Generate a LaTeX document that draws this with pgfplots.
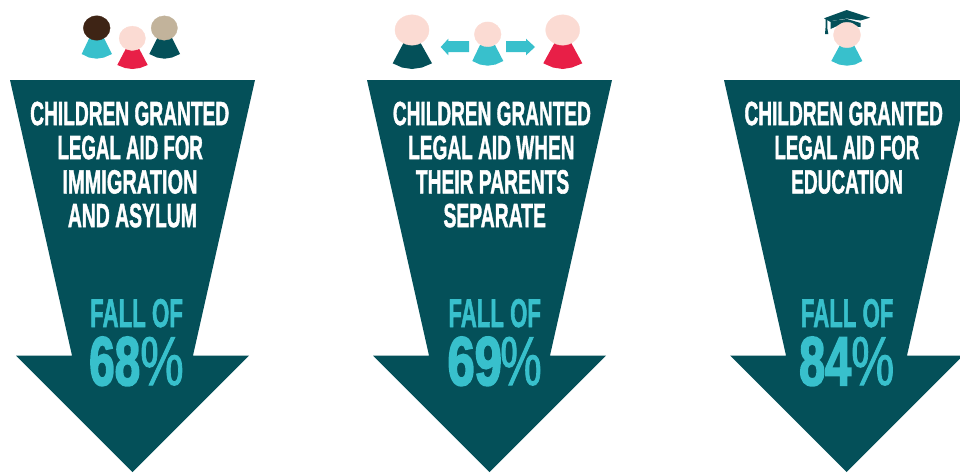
\documentclass[border=0pt]{standalone}
\usepackage{fontspec}
\setmainfont{Liberation Sans}
\newfontface\heavy[FakeBold=1.8]{Liberation Sans Bold}
\newfontface\heavier[FakeBold=3]{Liberation Sans Bold}
\newfontface\midweight[FakeBold=1.5]{Liberation Sans}
\usepackage{pgfplots}
\pgfplotsset{compat=1.18}

\definecolor{deep}{HTML}{045059}
\definecolor{aqua}{HTML}{38C0CC}
\definecolor{skin}{HTML}{FBDBD3}
\definecolor{rose}{HTML}{E81F47}
\definecolor{brownhead}{HTML}{3E2415}
\definecolor{tanhead}{HTML}{C2B39B}

% one line of text fitted to x1..x2, cap top y1, baseline y2 (picture pixels)
\newcommand\fitline[6]{%
  \node[anchor=base west, inner sep=0pt, text=#5] at (axis cs:#1,#4)
    {\resizebox{\dimexpr#2pt-#1pt\relax}{\dimexpr#4pt-#3pt\relax}{#6}};}
\newcommand\titleline[5]{\fitline{#1}{#2}{#3}{#4}{white}{\heavy #5}}

\pgfplotsset{
  block/.style={draw=none, fill=#1, forget plot},
  head/.style n args={3}{only marks, mark=*, mark size=#2pt, forget plot, color=#1,
    mark options={draw=#1, fill=#1, line width=0.3pt, xscale=#3}},
}

\begin{document}
\begin{tikzpicture}
\path[use as bounding box] (0,0) rectangle (960pt,472pt);
\begin{axis}[
  at={(0,0)}, anchor=south west,
  width=960pt, height=472pt, scale only axis, hide axis,
  xmin=0, xmax=960, ymin=0, ymax=472, y dir=reverse, clip=true,
]
% arrows
\addplot[block=deep] coordinates {(10,80)(255,80)(193,355.5)(249,355.5)(132.5,472)(16,355.5)(72,355.5)} --cycle;
\addplot[block=deep] coordinates {(367,80)(612,80)(550,355.5)(606,355.5)(489.5,472)(373,355.5)(429,355.5)} --cycle;
\addplot[block=deep] coordinates {(724,80)(969,80)(907,355.5)(963,355.5)(846.5,472)(730,355.5)(786,355.5)} --cycle;

% family icon
\addplot[block=aqua] coordinates {(89.3,38)(104,38)(112,54)(104,57.5)(96.7,58.7)(89,57.5)(81.7,54)} --cycle;
\addplot[head={brownhead}{12.2}{1.1}] coordinates {(96.7,28)};
\addplot[block=deep] coordinates {(157.3,38)(172,38)(180,54)(172,57.5)(164.5,58.7)(157,57.5)(149.3,54)} --cycle;
\addplot[head={tanhead}{12.2}{1.08}] coordinates {(164.3,28)};
\addplot[block=rose] coordinates {(125.7,49)(139.3,49)(147.7,65)(140,68)(132.3,69)(125,68)(117.3,65)} --cycle;
\addplot[head={skin}{12.2}{1.08}] coordinates {(132.3,38.3)};

% separated parents icon
\addplot[block=deep] coordinates {(404,42)(420,42)(432,63.3)(422,67.5)(412,69)(402,67.5)(392.7,63.3)} --cycle;
\addplot[head={skin}{15.2}{1.12}] coordinates {(412,30)};
\addplot[block=rose] coordinates {(555,42)(570.7,42)(582.3,63.3)(572,67.5)(562.7,69)(553,67.5)(543.3,63.3)} --cycle;
\addplot[head={skin}{15.2}{1.12}] coordinates {(562.7,30)};
\addplot[block=aqua] coordinates {(480,45)(495,45)(503.3,61)(495.5,64.5)(487.7,65.7)(480,64.5)(472.3,61)} --cycle;
\addplot[head={skin}{12.4}{1.08}] coordinates {(487.7,34.3)};
\addplot[block=aqua] coordinates {(440.7,47)(448.3,38.7)(448.3,41)(469,41)(469,52)(448.3,52)(448.3,55.3)} --cycle;
\addplot[block=aqua] coordinates {(535,47)(526,38.7)(526,41)(506,41)(506,52)(526,52)(526,55.3)} --cycle;

% graduate icon
\addplot[block=aqua] coordinates {(840,45)(854,45)(862.3,61)(855,64.5)(847,65.7)(839,64.5)(831.3,61)} --cycle;
\addplot[head={skin}{12.7}{1.07}] coordinates {(847,35)};
\addplot[block=deep] coordinates {(824,18.3)(846.7,10)(870,17.7)(860.5,20.5)(847,18.5)(831,21)(830.5,22)} --cycle;
\addplot[block=deep] coordinates {(830.5,21)(847,19)(860.5,23)(860.5,27)(847,25.5)(836,26.5)(830.5,29)} --cycle;
\addplot[block=deep] coordinates {(825.5,19)(827.3,19)(827.3,28)(828.3,34)(825,34)(825.5,28)} --cycle;

% column 1 text
\titleline{30}{229}{101.7}{125.1}{CHILDREN GRANTED}
\titleline{57.3}{202.7}{135.7}{159.1}{LEGAL AID FOR}
\titleline{62.3}{197.3}{170}{193.4}{IMMIGRATION}
\titleline{67.7}{196.7}{203.7}{227.1}{AND ASYLUM}
\fitline{90}{182.7}{299}{327}{aqua}{\heavy FALL OF}
\fitline{89}{140}{337}{385}{aqua}{\heavier 68}
\fitline{140}{183.5}{337}{385}{aqua}{\midweight\%}

% column 2 text
\titleline{392.7}{590.7}{101.7}{125.1}{CHILDREN GRANTED}
\titleline{408}{574.3}{135.7}{159.1}{LEGAL AID WHEN}
\titleline{415.7}{569}{170}{193.4}{THEIR PARENTS}
\titleline{443.3}{545.7}{203.7}{227.1}{SEPARATE}
\fitline{448.3}{540.7}{299}{327}{aqua}{\heavy FALL OF}
\fitline{447.3}{501.7}{337}{385}{aqua}{\heavier 69}
\fitline{500}{541.5}{337}{385}{aqua}{\midweight\%}

% column 3 text
\titleline{744.3}{942.7}{101.7}{125.1}{CHILDREN GRANTED}
\titleline{774.3}{919}{135.7}{159.1}{LEGAL AID FOR}
\titleline{791}{902.7}{170}{193.4}{EDUCATION}
\fitline{800.7}{893.3}{299}{327}{aqua}{\heavy FALL OF}
\fitline{799}{851}{337}{385}{aqua}{\heavier 84}
\fitline{851}{894}{337}{385}{aqua}{\midweight\%}
\end{axis}
\end{tikzpicture}
\end{document}
